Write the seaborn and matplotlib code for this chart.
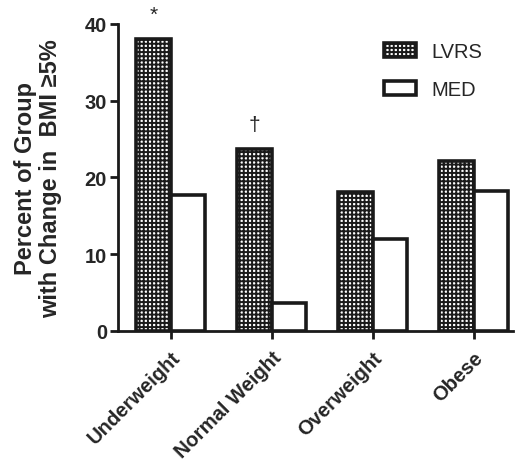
import matplotlib
matplotlib.use("Agg")
import matplotlib.pyplot as plt
import seaborn as sns
import pandas as pd
from matplotlib.patches import Patch

categories = ["Underweight", "Normal Weight", "Overweight", "Obese"]
groups = ["LVRS", "MED"]
lvrs_values = [38.0, 23.7, 18.1, 22.2]
med_values = [17.7, 3.6, 12.0, 18.2]
y_ticks = [0, 10, 20, 30, 40]
markers = {"Underweight": "*", "Normal Weight": "\u2020"}

df = pd.DataFrame({
    "category": categories * 2,
    "group": [groups[0]] * 4 + [groups[1]] * 4,
    "value": lvrs_values + med_values,
})

sns.set_style("ticks")
plt.rcParams["font.family"] = ["Liberation Sans", "DejaVu Sans"]
plt.rcParams["hatch.linewidth"] = 1.4
plt.rcParams["hatch.color"] = "#1a1a1a"

fig = plt.figure(figsize=(5.23, 4.77), dpi=100)
ax = fig.add_axes([0.2256, 0.304, 0.7554, 0.6436])

sns.barplot(data=df, x="category", y="value", hue="group", order=categories,
            hue_order=groups, palette=["white", "white"], width=0.68,
            edgecolor="#1a1a1a", linewidth=2.6, saturation=1, ax=ax, legend=False)

for bar in ax.containers[0]:
    bar.set_hatch("++++")
    bar.set_facecolor("white")

ax.set_ylim(0, 40)
ax.set_xlim(-0.52, 3.39)
ax.set_yticks(y_ticks)
ax.set_yticklabels([str(t) for t in y_ticks], fontsize=14.5, fontweight="bold")
ax.set_xticks(range(len(categories)))
ax.set_xticklabels(categories, rotation=45, ha="right", rotation_mode="anchor",
                   fontsize=14.5, fontweight="bold")
ax.set_xlabel("")
ax.set_ylabel("Percent of Group\nwith Change in  BMI \u22655%", fontsize=17,
              fontweight="bold", labelpad=16, linespacing=1.1)

for s in ["top", "right"]:
    ax.spines[s].set_visible(False)
for s in ["left", "bottom"]:
    ax.spines[s].set_linewidth(2)
    ax.spines[s].set_color("#1a1a1a")
ax.tick_params(axis="both", direction="out", length=6, width=2, color="#1a1a1a", pad=2)
ax.tick_params(axis="x", pad=6)

# significance markers above LVRS bars
for i, cat in enumerate(categories):
    if cat in markers:
        bar = ax.containers[0][i]
        xc = bar.get_x() + bar.get_width() / 2
        ax.text(xc, bar.get_height() + 2.0, markers[cat], ha="center", va="bottom",
                fontsize=15, clip_on=False)

handles = [
    Patch(facecolor="white", edgecolor="#1a1a1a", hatch="++++", linewidth=2.6, label="LVRS"),
    Patch(facecolor="white", edgecolor="#1a1a1a", linewidth=2.6, label="MED"),
]
ax.legend(handles=handles, loc="upper left", bbox_to_anchor=(0.627, 1.0),
          frameon=False, fontsize=14.5, handlelength=1.6, handleheight=0.7,
          labelspacing=0.95, handletextpad=0.75)

fig.savefig("out.png", dpi=100)
